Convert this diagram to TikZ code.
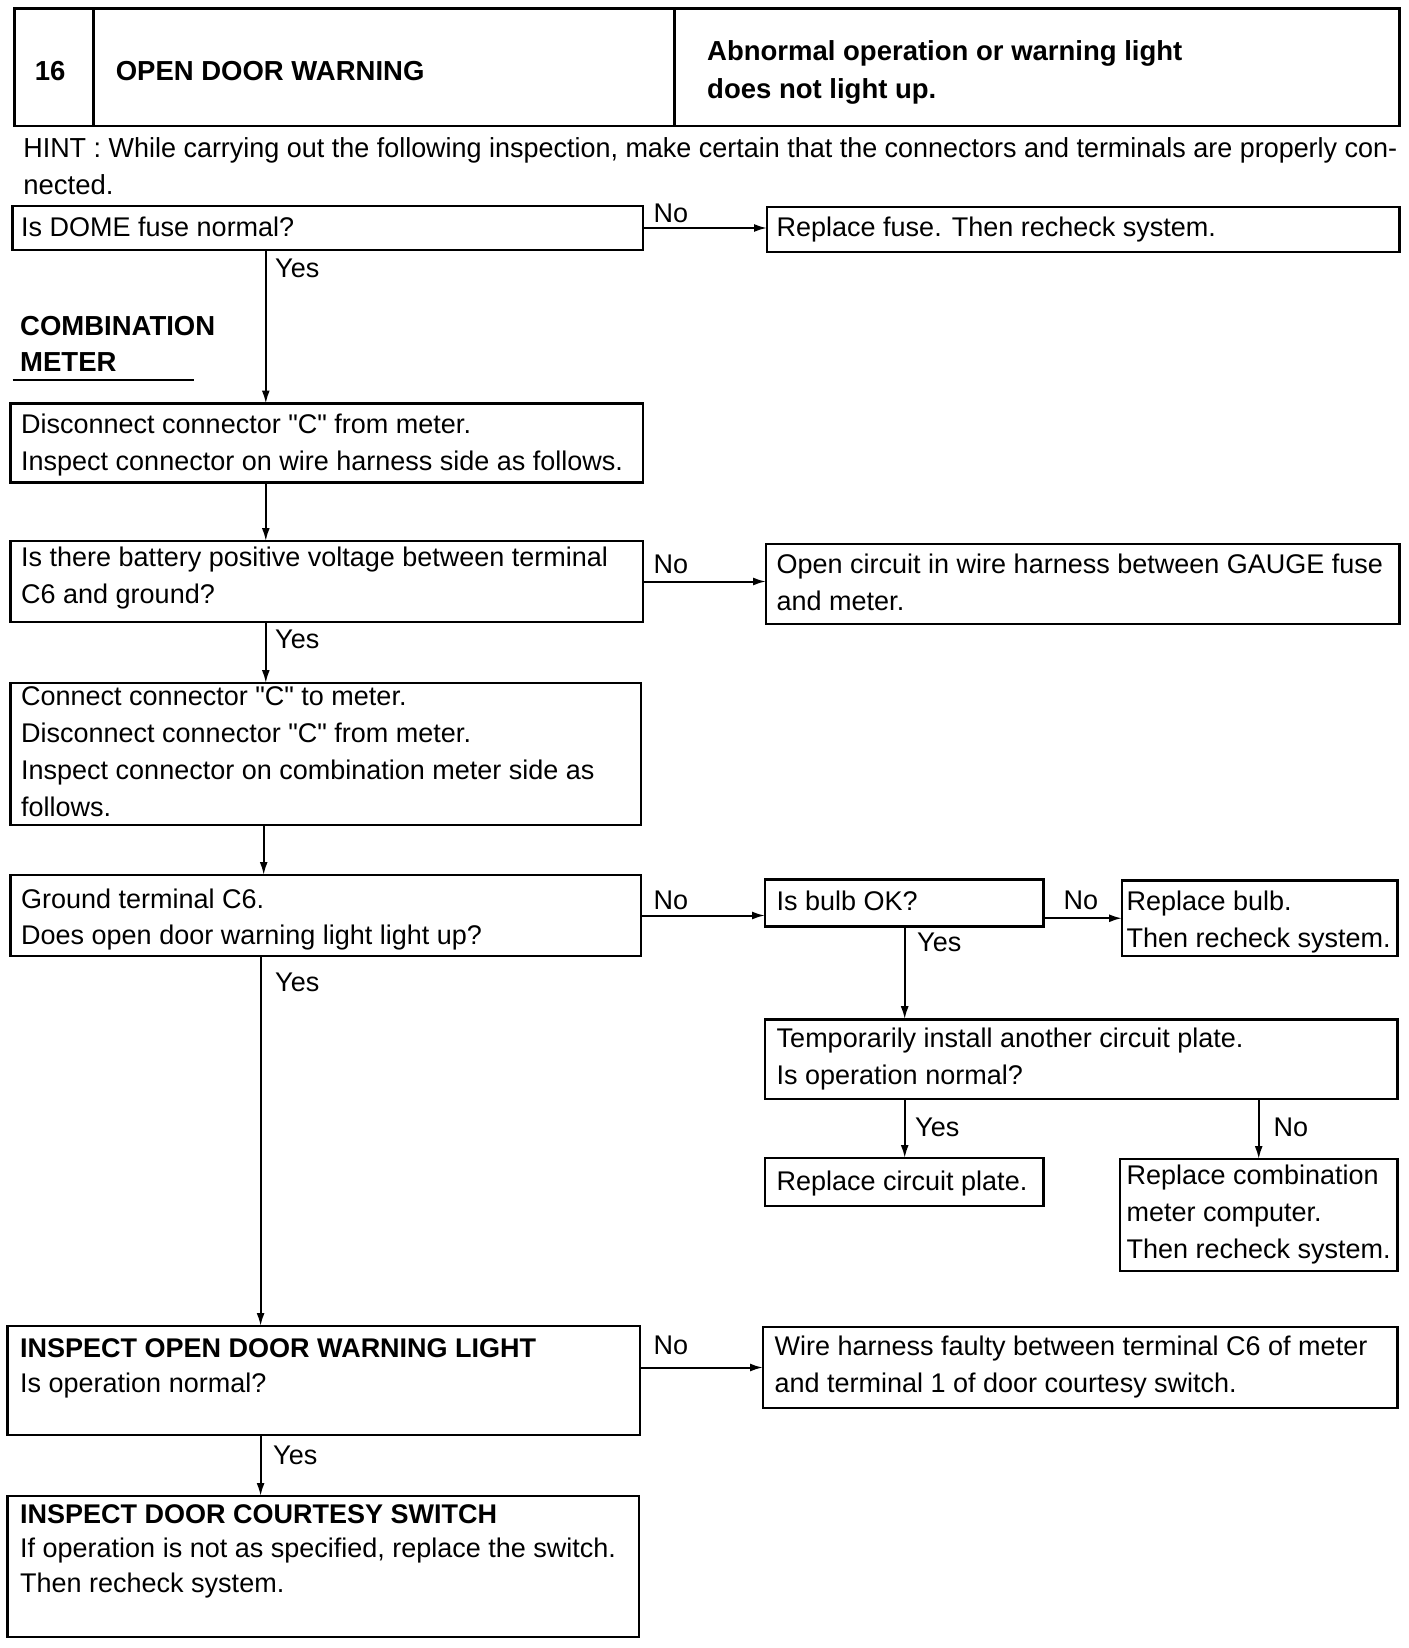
\documentclass[tikz,border=0pt]{standalone}
\usepackage{graphicx}
\usepackage{fontspec}
\setmainfont{Liberation Sans}[Ligatures=TeXOff]
\usetikzlibrary{arrows.meta}
\begin{document}
\begin{tikzpicture}[x=1pt,y=-1pt,
  box/.style={draw, line width=2.8pt, rectangle, inner sep=0pt, outer sep=0pt, anchor=north west},
  txt/.style={anchor=north west, inner sep=0pt, align=left, font=\fontsize{27}{36.8}\selectfont},
  btxt/.style={anchor=north west, inner sep=0pt, align=left, font=\fontsize{27.5}{37.8}\selectfont\bfseries},
  lab/.style={anchor=west, inner sep=0pt, font=\fontsize{27}{32}\selectfont},
  arr/.style={line width=2pt, -{Latex[length=13pt,width=8pt]}},
]
\useasboundingbox[fill=white] (0,0) rectangle (1408,1648);

% header
\node[box, minimum width=78.8pt, minimum height=117.7pt] (h1) at (14.7,8.4) {};
\node[box, minimum width=581pt, minimum height=117.7pt] (h2) at (93.5,8.4) {};
\node[box, minimum width=725pt, minimum height=117.7pt] (h3) at (674.5,8.4) {};
\node[btxt] (th1) at (34.7,61.4) {16};
\node[btxt] (th2) at (115.6,61.4) {OPEN DOOR WARNING};
\node[btxt] (th3) at (707,40.4) {Abnormal operation or warning light\\does not light up.};

% hint
\node[txt, font=\fontsize{27.5}{37.8}\selectfont] (hint) at (23.1,137) {\resizebox{1374pt}{\height}{HINT : While carrying out the following inspection, make certain that the connectors and terminals are properly con-}\\nected.};

% boxes
\node[box, minimum width=630.4pt, minimum height=44pt] (b1) at (12.6,206) {};
\node[box, minimum width=632.5pt, minimum height=45pt] (rf) at (767,207) {};
\node[box, minimum width=632.5pt, minimum height=78.8pt] (b2) at (10.5,403.5) {};
\node[box, minimum width=632.5pt, minimum height=81pt] (b3) at (10.5,541) {};
\node[box, minimum width=633.5pt, minimum height=80pt] (oc) at (766,544) {};
\node[box, minimum width=630.5pt, minimum height=142pt] (b4) at (10.5,683) {};
\node[box, minimum width=630.5pt, minimum height=81pt] (b5) at (10.5,875) {};
\node[box, minimum width=278.3pt, minimum height=47.3pt] (bulb) at (765,879.4) {};
\node[box, minimum width=275.4pt, minimum height=75.5pt] (rb) at (1122,880.5) {};
\node[box, minimum width=632.4pt, minimum height=79.8pt] (tmp) at (765,1019.2) {};
\node[box, minimum width=278.3pt, minimum height=48pt] (rcp) at (765,1158) {};
\node[box, minimum width=277.4pt, minimum height=112pt] (rcm) at (1120,1159) {};
\node[box, minimum width=632.6pt, minimum height=109pt] (b6) at (7.4,1326) {};
\node[box, minimum width=634.4pt, minimum height=81pt] (wh) at (763,1327) {};
\node[box, minimum width=631.6pt, minimum height=141pt] (b7) at (7.4,1496) {};

% texts
\node[txt] (t1) at (21,216.5) {Is DOME fuse normal?};
\node[txt] (trf) at (776.5,217) {Replace fuse. Then recheck system.};
\node[btxt, font=\fontsize{27.5}{36.8}\selectfont\bfseries] (tcm) at (20,315.7) {COMBINATION\\METER};
\draw[line width=2pt] (12.6,380.4) -- (194.4,380.4);
\node[txt, font=\fontsize{27}{37.8}\selectfont] (t2) at (21,413.4) {Disconnect connector "C" from meter.\\Inspect connector on wire harness side as follows.};
\node[txt] (t3) at (21,547) {Is there battery positive voltage between terminal\\C6 and ground?};
\node[txt] (toc) at (776.5,554) {Open circuit in wire harness between GAUGE fuse\\and meter.};
\node[txt] (t4) at (21,686.6) {Connect connector "C" to meter.\\Disconnect connector "C" from meter.\\Inspect connector on combination meter side as\\follows.};
\node[txt] (t5) at (21,888.3) {Ground terminal C6.\\Does open door warning light light up?};
\node[txt] (tbulb) at (776.5,890.5) {Is bulb OK?};
\node[txt] (trb) at (1126.4,890.5) {Replace bulb.\\Then recheck system.};
\node[txt] (ttmp) at (776.5,1028) {Temporarily install another circuit plate.\\Is operation normal?};
\node[txt] (trcp) at (776.5,1171) {Replace circuit plate.};
\node[txt] (trcm) at (1126.4,1164.7) {Replace combination\\meter computer.\\Then recheck system.};
\node[txt, font=\fontsize{27}{35}\selectfont] (t6) at (20,1338) {\textbf{INSPECT OPEN DOOR WARNING LIGHT}\\Is operation normal?};
\node[txt] (twh) at (774.4,1336) {Wire harness faulty between terminal C6 of meter\\and terminal 1 of door courtesy switch.};
\node[txt, font=\fontsize{27}{34.7}\selectfont] (t7) at (20,1504) {\textbf{INSPECT DOOR COURTESY SWITCH}\\If operation is not as specified, replace the switch.\\Then recheck system.};

% columns
\coordinate (cA) at (265.8,0);
\coordinate (cB) at (263.7,0);
\coordinate (cC) at (260.6,0);
\coordinate (cD) at (904.7,0);
\coordinate (cE) at (1258.7,0);

% connectors
\draw[arr] (b1.south -| cA) -- (b2.north -| cA);
\draw[arr] (b2.south -| cA) -- (b3.north -| cA);
\draw[arr] (b3.south -| cA) -- (b4.north -| cA);
\draw[arr] (b4.south -| cB) -- (b5.north -| cB);
\draw[arr] (b5.south -| cC) -- (b6.north -| cC);
\draw[arr] (b6.south -| cC) -- (b7.north -| cC);
\draw[arr] (b1.east) -- (b1.east -| rf.west);
\draw[arr] (b3.east) -- (b3.east -| oc.west);
\draw[arr] (b5.east) -- (b5.east -| bulb.west);
\draw[arr] (bulb.east |- rb.west) -- (rb.west);
\draw[arr] (bulb.south -| cD) -- (tmp.north -| cD);
\draw[arr] (tmp.south -| cD) -- (rcp.north -| cD);
\draw[arr] (tmp.south -| cE) -- (rcm.north -| cE);
\draw[arr] (b6.east |- wh.west) -- (wh.west);

% labels
\node[lab] (y1) at (275,268) {Yes};
\node[lab] (y3) at (275,639) {Yes};
\node[lab] (y5) at (275,982) {Yes};
\node[lab] (y6) at (273,1455) {Yes};
\node[lab] (yb) at (917,942.5) {Yes};
\node[lab] (yt) at (915,1127) {Yes};
\node[lab] (nt) at (1273.5,1127) {No};
\node[lab] (n1) at (653.5,213) {No};
\node[lab] (n3) at (653.5,564) {No};
\node[lab] (n5) at (653.5,900.5) {No};
\node[lab] (nb) at (1063.3,900.5) {No};
\node[lab] (n6) at (653.5,1345) {No};
\end{tikzpicture}
\end{document}
